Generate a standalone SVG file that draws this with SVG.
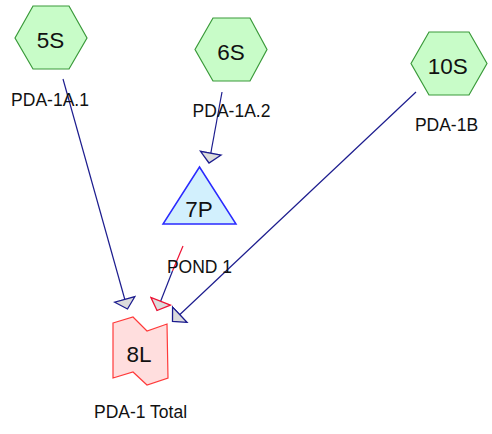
<svg xmlns="http://www.w3.org/2000/svg" width="492" height="434" viewBox="0 0 492 434">
<defs>
<style>
.hex{fill:#c8fcc8;stroke:#3a9a3a;stroke-width:1.2}
.pond{fill:#d2f0fd;stroke:#2a2aff;stroke-width:1.5}
.link{fill:#ffdede;stroke:#ff3a3a;stroke-width:1.2}
.id{font-family:"Liberation Sans",Arial,sans-serif;font-size:22.5px;fill:#111;text-anchor:middle}
.lbl{font-family:"Liberation Sans",Arial,sans-serif;font-size:17.5px;fill:#111;text-anchor:middle}
.c{fill:none;stroke-width:1.2}
.blue{stroke:#1c1c8e}
.red{stroke:#ee1133}
</style>
<marker id="ab" markerUnits="userSpaceOnUse" viewBox="-1 -12 13 24" refX="10" refY="0" markerWidth="13" markerHeight="24" orient="auto">
<path d="M0,-10.5 L10,0 L0,10.5 Z" fill="#dcdcdc" stroke="#1c1c8e" stroke-width="1.3"/>
</marker>
<marker id="ar" markerUnits="userSpaceOnUse" viewBox="-1 -12 13 24" refX="10" refY="0" markerWidth="13" markerHeight="24" orient="auto">
<path d="M0,-10.5 L10,0 L0,10.5 Z" fill="#dcdcdc" stroke="#ee1133" stroke-width="1.3"/>
</marker>
</defs>
<rect width="492" height="434" fill="#ffffff"/>
<g id="connectors">
<path class="c blue" d="M63,79 L127.5,309" marker-end="url(#ab)"/>
<path class="c blue" d="M222,92 L209,163" marker-end="url(#ab)"/>
<path class="c blue" d="M416,92 L172.5,321.5" marker-end="url(#ab)"/>
<path class="c red" d="M183,246 L172.5,271"/>
<path class="c blue" d="M172.5,271 L157,310.5" marker-end="url(#ar)"/>
</g>
<g id="node-5S">
<polygon class="hex" points="15,38 33,6 69,6 87,38 69,69 33,69"/>
<text class="id" x="50.5" y="48">5S</text>
<text class="lbl" x="50" y="106">PDA-1A.1</text>
</g>
<g id="node-6S">
<polygon class="hex" points="195,49.5 213,18 250,18 267,49.5 250,81 213,81"/>
<text class="id" x="231" y="59.5">6S</text>
<text class="lbl" x="231.5" y="117">PDA-1A.2</text>
</g>
<g id="node-10S">
<polygon class="hex" points="411,63.5 429,32 469,32 487,63.5 469,95 429,95"/>
<text class="id" x="447.7" y="73.5">10S</text>
<text class="lbl" x="446.5" y="130.5">PDA-1B</text>
</g>
<g id="node-7P">
<polygon class="pond" points="199.5,167 236,224 163,224"/>
<text class="id" x="199" y="217">7P</text>
<text class="lbl" x="199.5" y="273">POND 1</text>
</g>
<g id="node-8L">
<polygon class="link" points="113,323 133,317 147,331 167,324 168,378 147,385 133,372 113,378"/>
<text class="id" x="139" y="362">8L</text>
<text class="lbl" x="140.5" y="418">PDA-1 Total</text>
</g>
</svg>
